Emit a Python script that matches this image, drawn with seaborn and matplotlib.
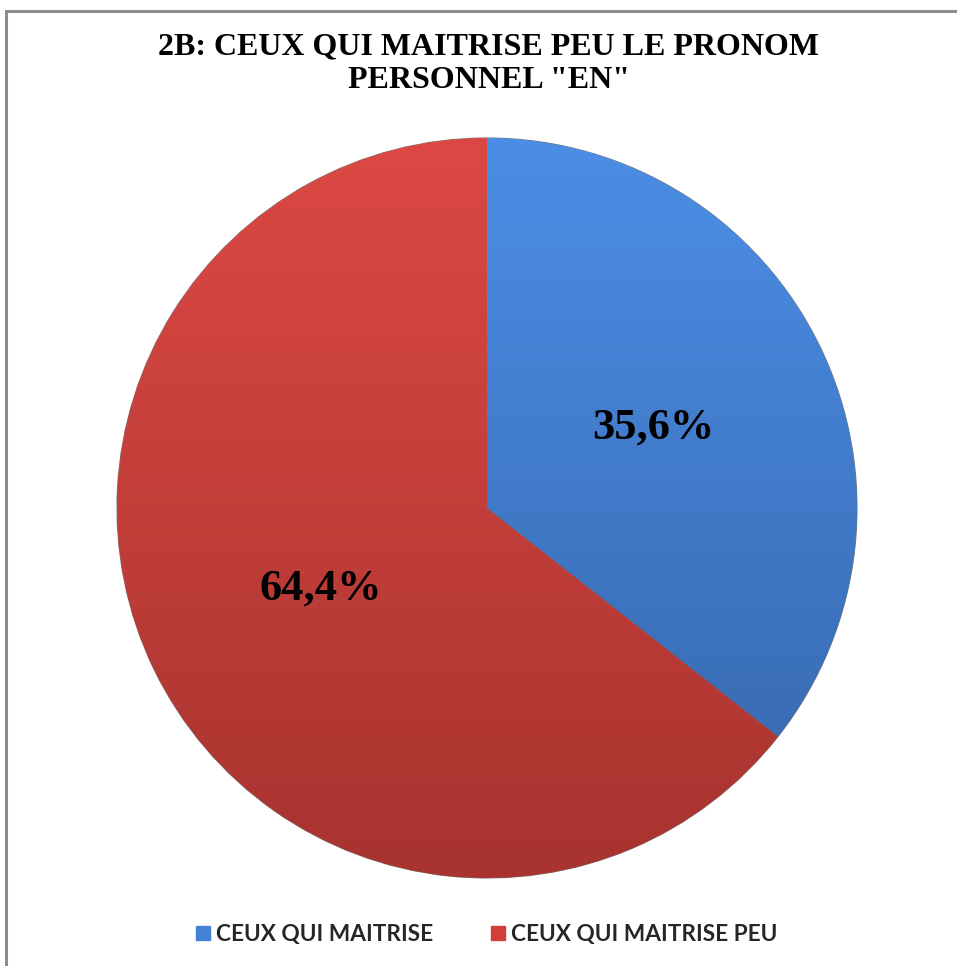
import numpy as np
import matplotlib
matplotlib.use("Agg")
import matplotlib.pyplot as plt
from matplotlib.patches import Rectangle
from matplotlib.lines import Line2D
from matplotlib.colors import LinearSegmentedColormap
import seaborn as sns

# Data
categories = ["CEUX QUI MAITRISE", "CEUX QUI MAITRISE PEU"]
shares = [35.6, 64.4]
labels_txt = ["35,6%", "64,4%"]
title = '2B: CEUX QUI MAITRISE PEU LE PRONOM\nPERSONNEL "EN"'

sns.set_theme(style="white")
plt.rcParams["font.family"] = ["DejaVu Sans"]

base_colors = ["#4382d6", "#d23f3b"]
top_colors = ["#4c8ee6", "#dc4944"]
bottom_colors = ["#3565a9", "#a8332f"]

W, H = 957, 966
fig = plt.figure(figsize=(W / 100, H / 100), dpi=100)
fig.patch.set_facecolor("white")

# outer chart frame
fig.add_artist(Rectangle((6 / W, -0.05), 1.2, (1 - 11 / H) + 0.05,
                         transform=fig.transFigure, fill=False,
                         edgecolor="#8c8c8c", linewidth=2.2))

cx, cy, r = 487, 508, 370
ax = fig.add_axes([(cx - r) / W, (H - cy - r) / H, 2 * r / W, 2 * r / H])
wedges, _ = ax.pie(shares, colors=base_colors, startangle=90, counterclock=False,
                   radius=1.0, wedgeprops=dict(linewidth=0.8, edgecolor="#7a7a7a"))
ax.set_xlim(-1.0, 1.0)
ax.set_ylim(-1.0, 1.0)
ax.set_aspect("equal")
ax.axis("off")

# vertical shading inside each wedge
grad = np.linspace(0, 1, 256).reshape(-1, 1)
for w, c_top, c_bot in zip(wedges, top_colors, bottom_colors):
    cmap = LinearSegmentedColormap.from_list("g", [c_bot, c_top])
    im = ax.imshow(grad, extent=(-1, 1, -1, 1), origin="lower", cmap=cmap,
                   aspect="auto", zorder=w.get_zorder() + 0.1)
    im.set_clip_path(w)

# value labels placed at half radius along each wedge bisector
angle = 90.0
for s, txt in zip(shares, labels_txt):
    span = s / 100 * 360
    mid = np.deg2rad(angle - span / 2)
    angle -= span
    ax.text(0.5 * np.cos(mid), 0.5 * np.sin(mid), txt, ha="center", va="center",
            fontsize=32, fontweight="bold", family="Liberation Serif",
            color="black", zorder=10)

fig.text(489 / W, 1 - 64 / H, title, ha="center", va="center",
         fontsize=23, fontweight="bold", family="Liberation Serif",
         linespacing=1.2, color="black")

handles = [Line2D([0], [0], marker="s", linestyle="none", markersize=10,
                  markerfacecolor=c, markeredgecolor=c) for c in base_colors]
fig.legend(handles, categories, loc="center", bbox_to_anchor=(484 / W, 1 - 934 / H),
           ncol=2, frameon=False, handletextpad=0.05, handlelength=1.1,
           columnspacing=2.3,
           prop=dict(family="Lato", size=16.3, weight="bold"))

fig.savefig("out.png", dpi=100)
